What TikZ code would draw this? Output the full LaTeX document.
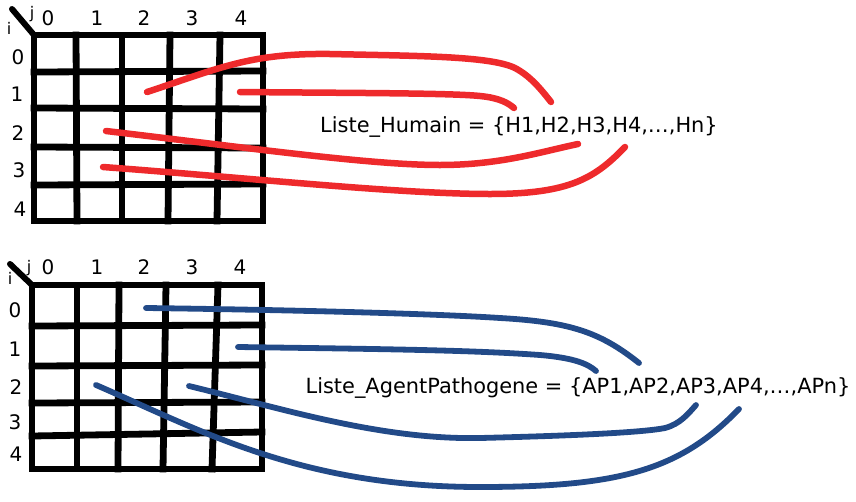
\documentclass[tikz,border=0pt]{standalone}
\usepackage{fontspec}
\setmainfont{DejaVu Sans}
\usepackage{xcolor}
\usepackage{tikz}
\usetikzlibrary{
positioning,
calc
}

\definecolor{humred}{RGB}{238,42,44}
\definecolor{apblue}{RGB}{34,74,136}

\begin{document}
\begin{tikzpicture}[
x=1pt,y=-1pt,
gridline/.style={line width=6.8pt,line cap=rect},
corner/.style={line width=6pt,line cap=round},
idx/.style={font=\fontsize{20}{24}\selectfont,inner sep=0pt},
small/.style={font=\fontsize{16}{18}\selectfont,inner sep=0pt},
liste/.style={font=\fontsize{20.9}{25}\selectfont,inner sep=0pt},
hlink/.style={humred,line width=6.5pt,line cap=round},
aplink/.style={apblue,line width=5.8pt,line cap=round}
]

\useasboundingbox (0,0) rectangle (856,501);

% grille des humains
\foreach \xa/\xb in {34/34,76/77,122/122,170/168,220/217,263/263}
  \draw[gridline] (\xa,35) -- (\xb,221);
\foreach \ya/\yb in {35/35,72/71,108/109,147/148,185/184,221/221}
  \draw[gridline] (34,\ya) -- (263,\yb);
\draw[corner] (12,9) -- (34,35);
\node[small] (jT) at (32,14) {j};
\node[small] (iT) at (9,28) {i};
\foreach \c/\x in {0/48,1/97,2/144,3/192,4/241}
  \node[idx] (colT\c) at (\x,18) {\c};
\foreach \r/\x/\y in {0/18/57,1/17/94,2/18/133,3/19/170,4/20/209}
  \node[idx] (rowT\r) at (\x,\y) {\r};

% grille des agents pathogenes
\foreach \xa/\xb in {32/32,77/77,119/118,166/163,218/212,262/262}
  \draw[gridline] (\xa,285) -- (\xb,469);
\foreach \ya/\yb in {285/285,326/325,366/365,403/402,436/432,469/469}
  \draw[gridline] (32,\ya) -- (262,\yb);
\draw[corner] (10,264) -- (32,285);
\node[small] (jB) at (29,268) {j};
\node[small] (iB) at (10,278) {i};
\foreach \c/\x in {0/48,1/97,2/144,3/192,4/240}
  \node[idx] (colB\c) at (\x,267) {\c};
\foreach \r/\x/\y in {0/15/310,1/15/349,2/16/387,3/15/422,4/16/454}
  \node[idx] (rowB\r) at (\x,\y) {\r};

% listes
\node[liste] (humains) at (519,127) {Liste\_Humain = \{H1,H2,H3,H4,…,Hn\}};
\node[liste] (agents) at (578,388) {Liste\_AgentPathogene = \{AP1,AP2,AP3,AP4,…,APn\}};

\coordinate (h1) at (147,92);   \coordinate (h1e) at (551,102);
\coordinate (h2) at (240,92);   \coordinate (h2e) at (514,108);
\coordinate (h3) at (106,131);  \coordinate (h3e) at (578,144);
\coordinate (h4) at (103,167);  \coordinate (h4e) at (625,147);

\coordinate (ap1) at (146,308); \coordinate (ap1e) at (639,363);
\coordinate (ap2) at (238,347); \coordinate (ap2e) at (596,371);
\coordinate (ap3) at (189,386); \coordinate (ap3e) at (696,405);
\coordinate (ap4) at (96,385);  \coordinate (ap4e) at (739,409);

\draw[hlink] (h1) .. controls (220,68) and (250,53) .. (330,54)
  .. controls (420,56) and (490,56) .. (515,68)
  .. controls (530,76) and (540,88) .. (h1e);
\draw[hlink] (h2) .. controls (350,93) and (450,93) .. (480,96)
  .. controls (500,98) and (508,103) .. (h2e);
\draw[hlink] (h3) .. controls (250,148) and (370,165) .. (440,165)
  .. controls (500,165) and (540,152) .. (h3e);
\draw[hlink] (h4) .. controls (250,178) and (400,194) .. (490,194)
  .. controls (570,194) and (595,178) .. (h4e);

\draw[aplink] (ap1) .. controls (300,310) and (440,314) .. (500,318)
  .. controls (570,322) and (600,332) .. (ap1e);
\draw[aplink] (ap2) .. controls (380,349) and (470,350) .. (540,355)
  .. controls (575,358) and (588,364) .. (ap2e);
\draw[aplink] (ap3) .. controls (280,408) and (380,440) .. (480,438)
  .. controls (560,436) and (640,433) .. (665,428)
  .. controls (680,424) and (688,414) .. (ap3e);
\draw[aplink] (ap4) .. controls (200,430) and (300,487) .. (480,487)
  .. controls (620,487) and (680,470) .. (ap4e);

\end{tikzpicture}
\end{document}
